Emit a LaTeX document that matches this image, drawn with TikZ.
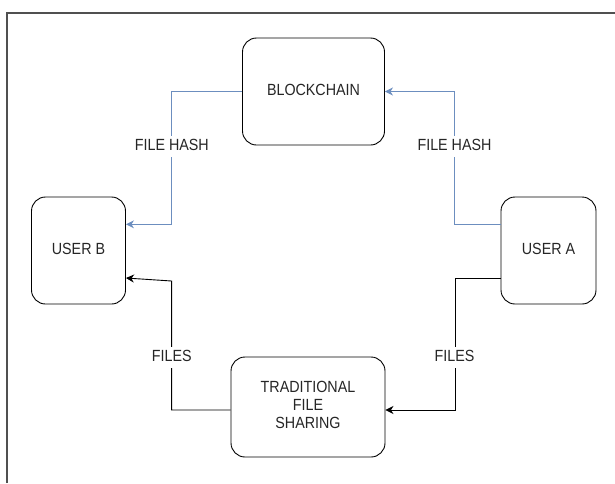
\documentclass[tikz,border=0pt]{standalone}
\usepackage{fontspec}
\usepackage{graphicx}
\setmainfont{Liberation Sans}
\usetikzlibrary{arrows.meta}
\definecolor{hashblue}{HTML}{6C8EBF}
\definecolor{framegray}{HTML}{505050}
\newcommand\tallText[1]{\scalebox{1}[1.13]{\begin{tabular}{@{}c@{}}#1\end{tabular}}}
\tikzset{
  box/.style={draw=black, line width=0.9pt, rounded corners=14pt, fill=white,
    align=center, inner sep=0pt, font=\fontsize{14.3}{15.5}\selectfont, text=black!85},
  lbl/.style={fill=white, inner sep=1.5pt, font=\fontsize{14.3}{15.5}\selectfont, text=black!85},
  hashline/.style={draw=hashblue, line width=0.9pt, -{Stealth[length=8pt,width=8pt,inset=2.5pt]}},
  fileline/.style={draw=black, line width=0.9pt, -{Stealth[length=8pt,width=8pt,inset=2.5pt]}},
}
\begin{document}
\begin{tikzpicture}[x=1pt,y=-1pt]
\useasboundingbox (0,0) rectangle (615,483);
% frame
\draw[framegray, line width=1.4pt] (7,483) -- (7,13) -- (615,13);
% nodes
\node[box, minimum width=142pt, minimum height=107pt] (bc) at (313.5,91.5) {\tallText{BLOCKCHAIN}};
\node[box, minimum width=94pt, minimum height=107pt] (ub) at (78.5,250.5) {\tallText{USER B}};
\node[box, minimum width=95pt, minimum height=107pt] (ua) at (548.5,250.5) {\tallText{USER A}};
\node[box, minimum width=154pt, minimum height=100pt] (tf) at (308,407) {\raisebox{-3pt}{\tallText{TRADITIONAL\\FILE\\SHARING}}};
% connectors
\coordinate (ra) at (454.5,224.3);
\coordinate (la) at (171.8,224.3);
\draw[hashline] ([yshift=26.2pt]ua.west) -- (ra) |- (bc.east);
\draw[hashline] (bc.west) -| (la) -- ([yshift=26.2pt]ub.east);
\draw[fileline] ([yshift=-27.5pt]ua.west) -| ([xshift=69.5pt,yshift=-3pt]tf.east) -- ([yshift=-3pt]tf.east);
\draw[fileline] ([yshift=-3pt]tf.west) -| ([xshift=-59pt,yshift=-3pt]tf.west |- 0,278) -- ([yshift=-27.5pt]ub.east);
% labels
\node[lbl] (l1) at (454.5,146.7) {\tallText{FILE HASH}};
\node[lbl] (l2) at (171.8,146.7) {\tallText{FILE HASH}};
\node[lbl] (l3) at (454.5,357.5) {\tallText{FILES}};
\node[lbl] (l4) at (171.8,357.5) {\tallText{FILES}};
\end{tikzpicture}
\end{document}
